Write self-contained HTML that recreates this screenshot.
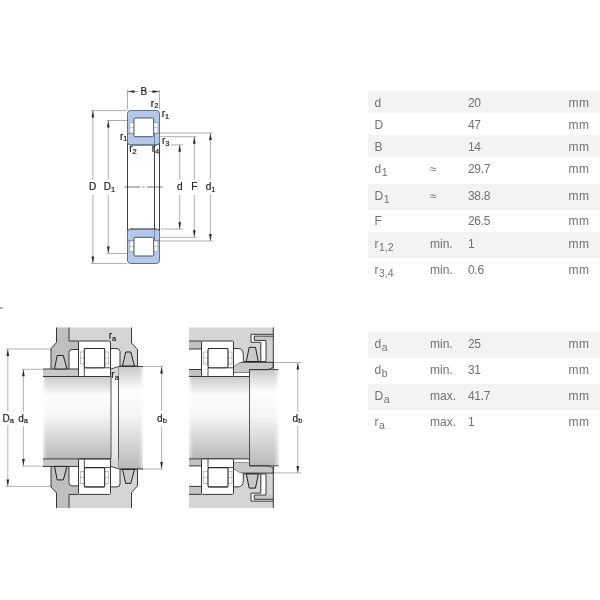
<!DOCTYPE html>
<html><head><meta charset="utf-8">
<style>
html,body{margin:0;padding:0;background:#fff;}
body{width:600px;height:600px;position:relative;overflow:hidden;font-family:"Liberation Sans",Arial,sans-serif;}
.row{position:absolute;left:368px;width:232px;font-size:12px;color:#727272;}
.row.s{background:#f3f3f3;}
.row span{position:absolute;white-space:nowrap;line-height:14px;}
.c1{left:6.4px}.c2{left:62px}.c3{left:100px;letter-spacing:-0.3px}.c4{left:200.6px;letter-spacing:0.4px}
.row sub{font-size:10.5px;margin-left:0.6px;vertical-align:baseline;position:relative;top:3.5px;letter-spacing:0;}
svg{position:absolute;left:0;top:0;will-change:transform;}
.row{will-change:transform;}
svg text{font-family:"Liberation Sans",Arial,sans-serif;fill:#222;stroke:#222;stroke-width:0.2px;}
</style></head><body>
<!-- TABLE1 -->
<div class="row s" style="top:91px;height:21.5px"><span class="c1" style="top:4.6px">d</span><span class="c3" style="top:4.6px">20</span><span class="c4" style="top:4.6px">mm</span></div>
<div class="row " style="top:112.5px;height:22px"><span class="c1" style="top:4.6px">D</span><span class="c3" style="top:4.6px">47</span><span class="c4" style="top:4.6px">mm</span></div>
<div class="row s" style="top:134.5px;height:22px"><span class="c1" style="top:4.6px">B</span><span class="c3" style="top:4.6px">14</span><span class="c4" style="top:4.6px">mm</span></div>
<div class="row " style="top:156.5px;height:27px"><span class="c1" style="top:4.6px">d<sub>1</sub></span><span class="c2" style="top:4.6px">≈</span><span class="c3" style="top:4.6px">29.7</span><span class="c4" style="top:4.6px">mm</span></div>
<div class="row s" style="top:183.5px;height:25.5px"><span class="c1" style="top:4.6px">D<sub>1</sub></span><span class="c2" style="top:4.6px">≈</span><span class="c3" style="top:4.6px">38.8</span><span class="c4" style="top:4.6px">mm</span></div>
<div class="row " style="top:209px;height:23px"><span class="c1" style="top:4.6px">F</span><span class="c3" style="top:4.6px">26.5</span><span class="c4" style="top:4.6px">mm</span></div>
<div class="row s" style="top:232px;height:25.5px"><span class="c1" style="top:4.6px">r<sub>1,2</sub></span><span class="c2" style="top:4.6px">min.</span><span class="c3" style="top:4.6px">1</span><span class="c4" style="top:4.6px">mm</span></div>
<div class="row " style="top:257.5px;height:26px"><span class="c1" style="top:4.6px">r<sub>3,4</sub></span><span class="c2" style="top:4.6px">min.</span><span class="c3" style="top:4.6px">0.6</span><span class="c4" style="top:4.6px">mm</span></div>
<!-- /TABLE1 -->
<!-- TABLE2 -->
<div class="row s" style="top:331.5px;height:26px"><span class="c1" style="top:4.6px">d<sub>a</sub></span><span class="c2" style="top:4.6px">min.</span><span class="c3" style="top:4.6px">25</span><span class="c4" style="top:4.6px">mm</span></div>
<div class="row " style="top:357.5px;height:26px"><span class="c1" style="top:4.6px">d<sub>b</sub></span><span class="c2" style="top:4.6px">min.</span><span class="c3" style="top:4.6px">31</span><span class="c4" style="top:4.6px">mm</span></div>
<div class="row s" style="top:383.5px;height:26px"><span class="c1" style="top:4.6px">D<sub>a</sub></span><span class="c2" style="top:4.6px">max.</span><span class="c3" style="top:4.6px">41.7</span><span class="c4" style="top:4.6px">mm</span></div>
<div class="row " style="top:409.5px;height:26px"><span class="c1" style="top:4.6px">r<sub>a</sub></span><span class="c2" style="top:4.6px">max.</span><span class="c3" style="top:4.6px">1</span><span class="c4" style="top:4.6px">mm</span></div>
<!-- /TABLE2 -->
<svg width="600" height="600" viewBox="0 0 600 600">
<defs>
<linearGradient id="gs" x1="0" y1="0" x2="0" y2="1">
<stop offset="0" stop-color="#c8c8c8"/><stop offset="0.23" stop-color="#fdfdfd"/><stop offset="0.48" stop-color="#f5f5f5"/><stop offset="1" stop-color="#b8b8b8"/>
</linearGradient>
<linearGradient id="fr" x1="0" y1="0" x2="1" y2="0"><stop offset="0" stop-color="#fff" stop-opacity="0"/><stop offset="1" stop-color="#fff" stop-opacity="0.6"/></linearGradient>
<linearGradient id="fl" x1="0" y1="0" x2="1" y2="0"><stop offset="0" stop-color="#fff" stop-opacity="0.6"/><stop offset="1" stop-color="#fff" stop-opacity="0"/></linearGradient>
<path id="ah" d="M0 0 L-1.35 7 L1.35 7 Z" fill="#2a2a2a"/>
</defs>
<!-- DRAW1 -->
<g id="draw1">
<!-- dimension/extension lines -->
<g stroke="#9a9a9a" stroke-width="0.8" fill="none">
<path d="M127.5 90V109.5M159.5 90V109.5"/>
<path d="M127.5 91.6H138.5M149 91.6H159.5"/>
<path d="M91 110.6H127M91 263.4H127"/>
<path d="M92.9 110.5V179.5M92.9 195V263.5"/>
<path d="M106.5 120.5H127M106.5 253.5H127"/>
<path d="M108.3 120.5V179.5M108.3 195V253.5"/>
<path d="M170.5 144.9H183M161 229.1H183"/>
<path d="M179.7 144.7V179.5M179.7 195V229.3"/>
<path d="M160 136.7H196.5M160 237.3H196.5"/>
<path d="M194.3 136.7V179.5M194.3 195V237.3"/>
<path d="M160 133H212.5M160 241H212.5"/>
<path d="M210.4 133V179.5M210.4 195V241"/>
</g>
<!-- arrowheads -->
<use href="#ah" transform="translate(127.5 91.6) rotate(-90)"/>
<use href="#ah" transform="translate(159.5 91.6) rotate(90)"/>
<use href="#ah" transform="translate(92.9 110.5)"/><use href="#ah" transform="translate(92.9 263.5) rotate(180)"/>
<use href="#ah" transform="translate(108.3 120.5)"/><use href="#ah" transform="translate(108.3 253.5) rotate(180)"/>
<use href="#ah" transform="translate(179.7 144.7)"/><use href="#ah" transform="translate(179.7 229.3) rotate(180)"/>
<use href="#ah" transform="translate(194.3 136.7)"/><use href="#ah" transform="translate(194.3 237.3) rotate(180)"/>
<use href="#ah" transform="translate(210.4 133)"/><use href="#ah" transform="translate(210.4 241) rotate(180)"/>
<!-- bore lines -->
<path d="M127.5 143V231M159.5 143V231M154.5 134V240" stroke="#333" stroke-width="0.95" fill="none"/>
<path d="M124.5 187H162.5" stroke="#3a3a3a" stroke-width="0.7" stroke-dasharray="15.5 2.5 2 2.5" fill="none"/>
<g id="sec1">
<rect x="127.5" y="110.5" width="32" height="34.5" rx="3" fill="#b5c8e8" stroke="#465270" stroke-width="0.8"/>
<path d="M127.5 133.2H134M153.7 133.2H159.5M154.5 133.2V145" stroke="#4a5878" stroke-width="0.6" fill="none"/>
<rect x="129.8" y="122.5" width="4.2" height="10.5" fill="#fff" stroke="#8c9cba" stroke-width="0.6"/>
<rect x="153.7" y="122.5" width="4.2" height="10.5" fill="#fff" stroke="#8c9cba" stroke-width="0.6"/>
<path d="M129.8 127.7H134M153.7 127.7H157.9" stroke="#8c9cba" stroke-width="0.6"/>
<rect x="134" y="118" width="19.7" height="18.7" rx="1" fill="#fff" stroke="#3a4460" stroke-width="0.9"/>
<path d="M130 145H157" stroke="#3a4258" stroke-width="0.7"/>
</g>
<use href="#sec1" transform="translate(0 374) scale(1 -1)"/>
<g font-size="10">
<text x="140.4" y="95.2">B</text>
<text x="89.1" y="190.4">D</text>
<text x="103.7" y="190.4">D<tspan font-size="7.5" dy="1.7">1</tspan></text>
<text x="177" y="190.4">d</text>
<text x="191.3" y="190.4">F</text>
<text x="205.8" y="190.4">d<tspan font-size="7.5" dy="1.7">1</tspan></text>
<text x="150.8" y="106.7">r<tspan font-size="7.5" dy="1.7">2</tspan></text>
<text x="161.7" y="117">r<tspan font-size="7.5" dy="1.7">1</tspan></text>
<text x="120" y="139.7">r<tspan font-size="7.5" dy="1.7">1</tspan></text>
<text x="129.2" y="152">r<tspan font-size="7.5" dy="1.7">2</tspan></text>
<text x="162" y="144.2">r<tspan font-size="7.5" dy="1.7">3</tspan></text>
<text x="151.7" y="152">r<tspan font-size="7.5" dy="1.7">4</tspan></text>
</g>
</g>
<!-- /DRAW1 -->
<!-- DRAW2 -->
<g id="draw2">
<!-- shaft -->
<rect x="43" y="376.5" width="68" height="82.4" fill="url(#gs)"/>
<path d="M111 369.2L118.5 366.5V468.9L111 466.2Z" fill="url(#gs)"/>
<path d="M111 369.2L118.5 366.5V468.9L111 466.2Z" fill="#fff" fill-opacity="0.55"/>
<rect x="118.5" y="366.5" width="24.5" height="102.4" fill="url(#gs)"/>
<rect x="139" y="366.5" width="4" height="102.4" fill="url(#fr)"/>
<rect x="43" y="376.5" width="4" height="82.4" fill="url(#fl)"/>
<path d="M111 369V466.4M118.5 366.5V468.9" stroke="#444" stroke-width="0.9" fill="none"/>
<!-- dims -->
<g stroke="#a0a0a0" stroke-width="0.8" fill="none">
<path d="M5.5 349H51M5.5 486.4H51"/>
<path d="M7.8 349V411.5M7.8 425V486.4"/>
<path d="M22 369.3H43M22 466.1H43"/>
<path d="M23.4 369.3V411.5M23.4 426V466.1"/>
<path d="M137.5 366.4H163.3M137.5 469H163.3"/>
<path d="M161.6 366.5V410.5M161.6 426.3V468.9"/>
</g>
<use href="#ah" transform="translate(7.8 349)"/><use href="#ah" transform="translate(7.8 486.4) rotate(180)"/>
<use href="#ah" transform="translate(23.4 369.3)"/><use href="#ah" transform="translate(23.4 466.1) rotate(180)"/>
<use href="#ah" transform="translate(161.6 366.5)"/><use href="#ah" transform="translate(161.6 468.9) rotate(180)"/>
<g id="sec2">
<!-- housing -->
<path d="M69 327.5H131.5V343L137.5 349.5V366H120V351.5Q120 348.5 117 348.5H110.5V341H69Z" fill="#d5d5d5"/>
<!-- cover -->
<path d="M56.5 327.5V342.5L51 348.5V369H69V352.5Q69 349.5 72 349.5H78.5V341H69V327.5Z" fill="#bfbfbf"/>
<!-- sleeve -->
<rect x="43" y="369" width="35.5" height="7.5" fill="#c8c8c8"/>
<!-- neck fillet -->
<path d="M110.5 369.2L118.5 366.5V376.5H110.5Z" fill="#d8d8d8"/>
<!-- bearing -->
<rect x="78.5" y="341" width="32" height="35.5" rx="1" fill="#fff" stroke="#383838" stroke-width="1"/>
<path d="M84.3 348.5H104.7M84.3 367.8H110.5M84.3 367.8V376.5" stroke="#383838" stroke-width="0.9" fill="none"/>
<rect x="80.3" y="352" width="4" height="12" fill="#fff" stroke="#999" stroke-width="0.6"/>
<rect x="104.7" y="352" width="4" height="12" fill="#fff" stroke="#999" stroke-width="0.6"/>
<path d="M80.3 358H84.3M104.7 358H108.7" stroke="#999" stroke-width="0.6"/>
<rect x="84.3" y="348.5" width="20.4" height="19.3" rx="1.5" fill="#fff" stroke="#2a2a2a" stroke-width="1.1"/>
<!-- outlines -->
<g stroke="#383838" stroke-width="1" fill="none" stroke-linejoin="round">
<path d="M56.5 327.5V342.5L51 348.5V369"/>
<path d="M69 327.5V341H78.5"/>
<path d="M69 369V352.5Q69 349.5 72 349.5H78.5"/>
<path d="M43 369H78.5M43 376.5H111"/>
<path d="M131.5 327.5V343L137.5 349.5V366"/>
<path d="M110.5 348.5H117Q120 348.5 120 351.5V366"/>
<path d="M120 366H137.5"/>
<path d="M110.5 369.2L118.5 366.5H143" stroke-width="0.9"/>
</g>
<!-- seals -->
<path d="M57.2 355.5H63.3L67 369H54.5Z" fill="#c8c8c8" stroke="#222" stroke-width="1" stroke-linejoin="round"/>
<path d="M125.7 352H130.8L134.5 366H122.5Z" fill="#c8c8c8" stroke="#222" stroke-width="1" stroke-linejoin="round"/>
</g>
<use href="#sec2" transform="translate(0 835.4) scale(1 -1)"/>
<g font-size="10">
<text x="2.4" y="421.6">D<tspan font-size="7.5" dy="1.7">a</tspan></text>
<text x="18.3" y="421.6">d<tspan font-size="7.5" dy="1.7">a</tspan></text>
<text x="157.1" y="421.6">d<tspan font-size="7.5" dy="1.7">b</tspan></text>
<text x="108.7" y="339">r<tspan font-size="7.5" dy="1.7">a</tspan></text>
<text x="111.3" y="378.3">r<tspan font-size="7.5" dy="1.7">a</tspan></text>
</g>
<rect x="0" y="307" width="3.2" height="2" fill="#b4b4b4"/>
</g>
<!-- /DRAW2 -->
<!-- DRAW3 -->
<g id="draw3">
<rect x="189" y="376.5" width="60.5" height="82.4" fill="url(#gs)"/>
<rect x="249.5" y="369.6" width="29" height="96.2" fill="url(#gs)"/>
<rect x="273.5" y="369.6" width="5" height="96.2" fill="url(#fr)"/>
<rect x="189" y="376.5" width="4" height="82.4" fill="url(#fl)"/>
<path d="M249.5 369.6V465.8" stroke="#444" stroke-width="0.9"/>
<g stroke="#a0a0a0" stroke-width="0.8" fill="none">
<path d="M273.3 362.5H301M273.3 472.9H301"/>
<path d="M297.8 362.5V411.5M297.8 426V472.9"/>
</g>
<use href="#ah" transform="translate(297.8 362.5)"/><use href="#ah" transform="translate(297.8 472.9) rotate(180)"/>
<g id="sec3">
<path d="M189 327.5H273.3V362H243.3V354.5Q243.3 348.5 238 348.5H233.5V341H189Z" fill="#d5d5d5"/>
<rect x="189" y="341" width="12.5" height="8" fill="#c2c2c2"/>
<rect x="189" y="369.5" width="12.5" height="7" fill="#c2c2c2"/>
<!-- shaft ring -->
<path d="M233.5 366.5L240 362.3H273.3V367.5L268 369.6H249.5V373H233.5Z" fill="#c8c8c8" stroke="#383838" stroke-width="1" stroke-linejoin="round"/>
<rect x="233.5" y="373" width="16" height="3.5" fill="#fff"/>
<!-- labyrinth -->
<path d="M251 342.3V334.3H273.3V336.1H254.3V340.4H266V361.5H261.2V342.3Z" fill="#fff"/>
<path d="M254.3 336.1H273.3V340.4H254.3Z" fill="#c8c8c8"/>
<path d="M233.5 348.5H238Q243.3 348.5 243.3 354.5V361.5L240 362.3L233.5 366.5Z" fill="#fff"/>
<g stroke="#383838" stroke-width="1" fill="none" stroke-linejoin="round">
<path d="M251 342.3V334.3H273.3"/>
<path d="M254.3 340.4V336.1H273.3"/>
<path d="M254.3 340.4H266V361.5"/>
<path d="M251 342.3H260.8V361.5"/>
<path d="M233.5 348.5H238Q243.3 348.5 243.3 354.5V361.5"/>
<path d="M243.3 361.5H266"/>
<path d="M273.3 327.5V369.6"/>
<path d="M189 341H201.5M189 369.5H201.5M189 376.5H249.5"/>
<path d="M189 349H201.5"/>
<path d="M249.5 373V376.5M249.5 369.6H278.5" stroke-width="0.9"/>
</g>
<!-- bearing -->
<rect x="201.5" y="341" width="32" height="35.5" rx="1" fill="#fff" stroke="#383838" stroke-width="1"/>
<path d="M208 348.5H228M208 367.8H233.5M208 367.8V376.5" stroke="#383838" stroke-width="0.9" fill="none"/>
<rect x="203.7" y="352" width="4.3" height="12" fill="#fff" stroke="#999" stroke-width="0.6"/>
<rect x="228" y="352" width="4" height="12" fill="#fff" stroke="#999" stroke-width="0.6"/>
<path d="M203.7 358H208M228 358H232" stroke="#999" stroke-width="0.6"/>
<rect x="208" y="348.5" width="20" height="19.3" rx="1.5" fill="#fff" stroke="#2a2a2a" stroke-width="1.1"/>
<path d="M249.2 347.3H255.5L258.3 361.5H246.3Z" fill="#c8c8c8" stroke="#222" stroke-width="1" stroke-linejoin="round"/>
</g>
<use href="#sec3" transform="translate(0 835.4) scale(1 -1)"/>
<g font-size="10">
<text x="292.6" y="421.6">d<tspan font-size="7.5" dy="1.7">b</tspan></text>
</g>
</g>
<!-- /DRAW3 -->
</svg>
</body></html>
